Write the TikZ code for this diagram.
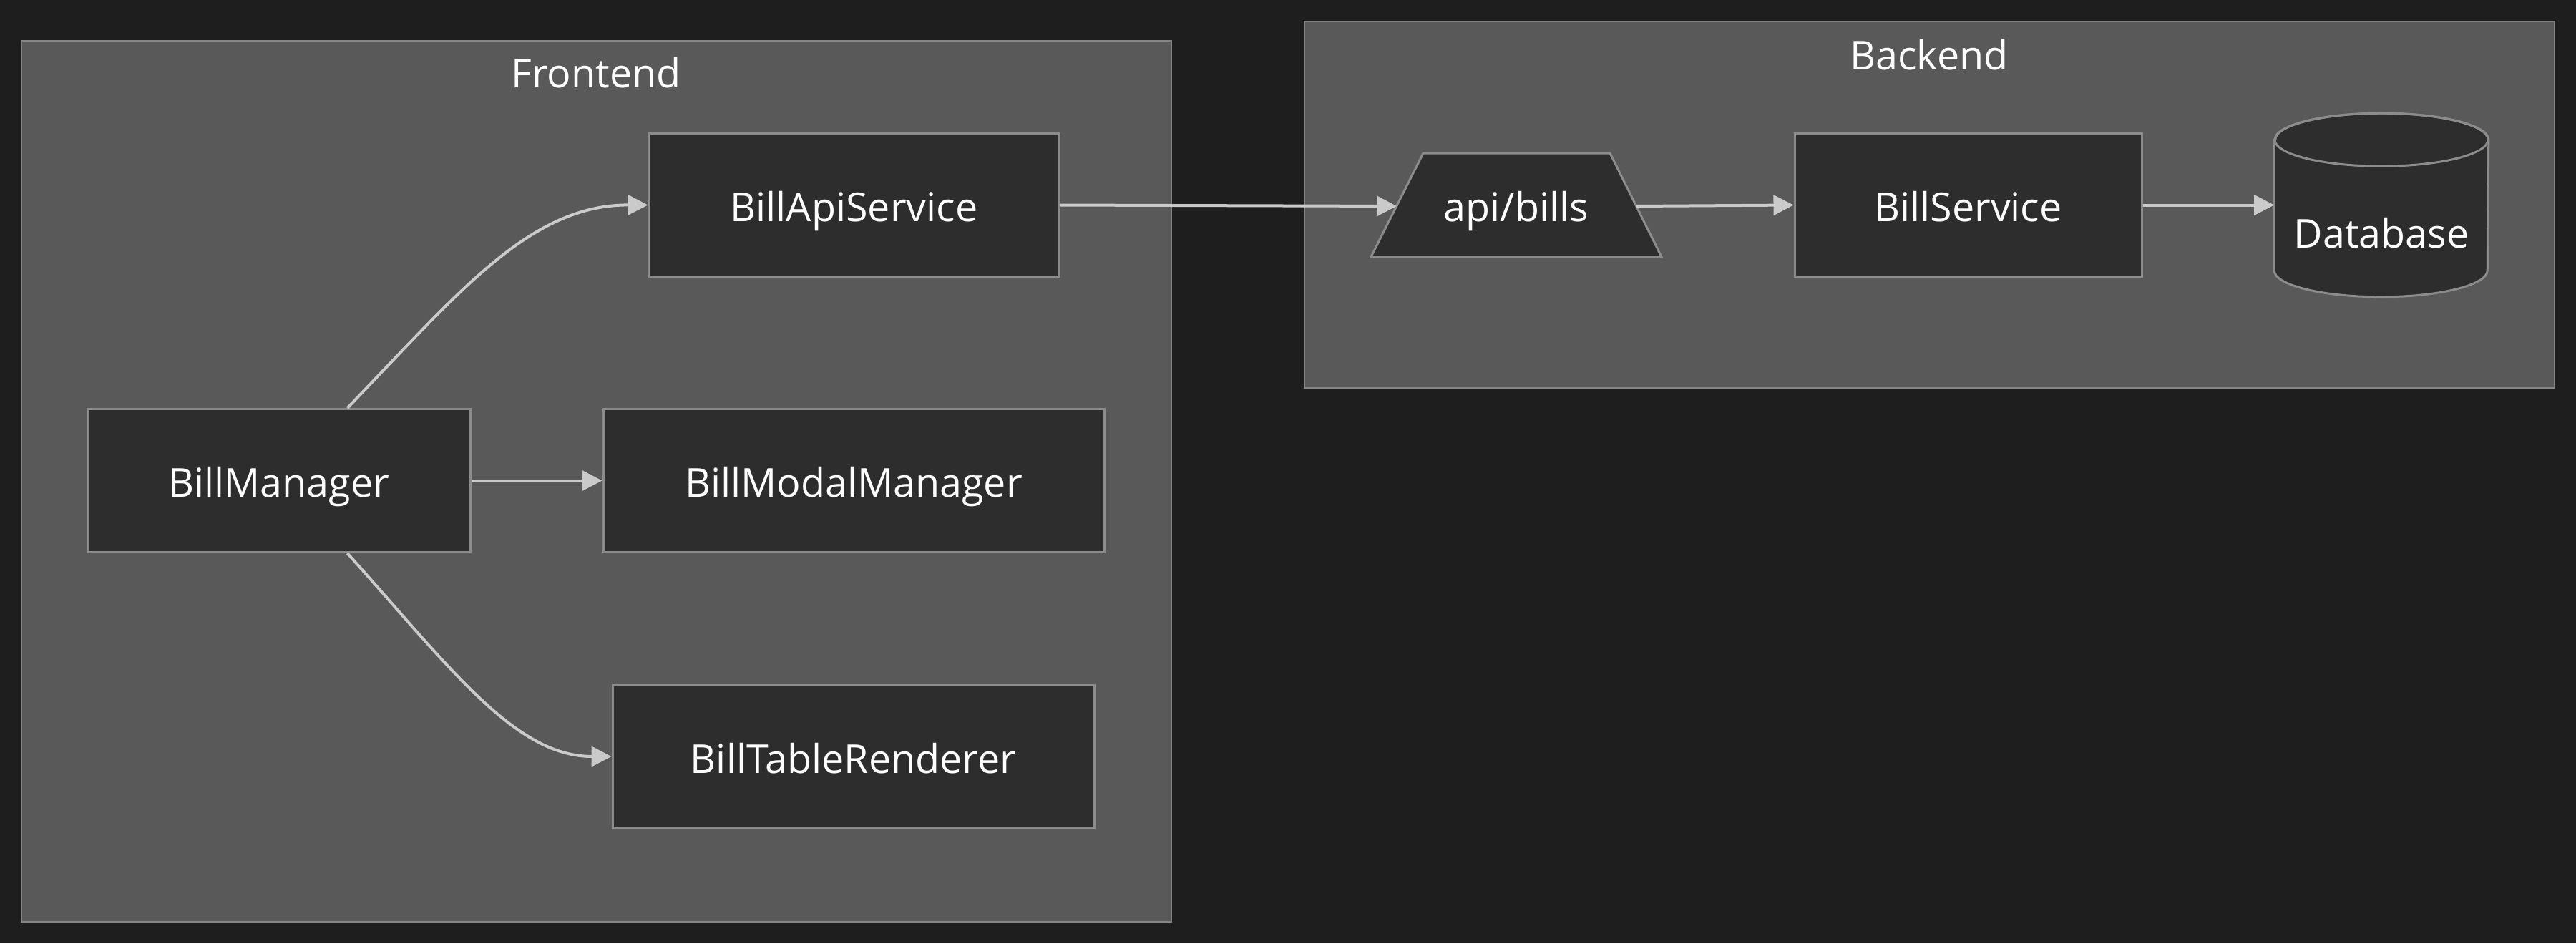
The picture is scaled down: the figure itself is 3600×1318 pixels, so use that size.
\documentclass[tikz,border=0pt]{standalone}
\usepackage{fontspec}
\setmainfont{Open Sans}
\usetikzlibrary{arrows.meta,shapes.geometric,calc}
\definecolor{bgc}{HTML}{1E1E1E}
\definecolor{clfill}{HTML}{595959}
\definecolor{clborder}{HTML}{858585}
\definecolor{ndfill}{HTML}{2D2D2D}
\definecolor{ndborder}{HTML}{8C8C8C}
\definecolor{edgec}{HTML}{CACACA}
\tikzset{
  lbl/.style={text=white, font=\fontsize{13.9pt}{16pt}\selectfont, text height=11.6pt, text depth=0pt},
  cluster/.style={draw=clborder, fill=clfill, line width=0.6pt},
  cltitle/.style={lbl, inner sep=0pt},
  nodebox/.style={lbl, draw=ndborder, fill=ndfill, line width=0.75pt, minimum height=50pt, inner sep=0pt},
  shapeline/.style={draw=ndborder, fill=ndfill, line width=0.75pt},
  conn/.style={draw=edgec, line width=1pt, -{Triangle[length=7pt,width=7pt]}},
}
\begin{document}
\begin{tikzpicture}[x=0.25pt,y=-0.25pt]
\useasboundingbox[fill=bgc] (0,0) rectangle (3600,1318);
% clusters
\draw[cluster] (30,57) rectangle (1637,1288);
\draw[cluster] (1823,30) rectangle (3570,542);
\node[cltitle] (tfront) at (833,99) {Frontend};
\node[cltitle] (tback) at (2696,74) {Backend};
% frontend nodes
\node[nodebox, minimum width=143.25pt] (bas) at (1193.5,286.5) {BillApiService};
\node[nodebox, minimum width=133.75pt] (bm) at (389.5,671.5) {BillManager};
\node[nodebox, minimum width=175pt] (bmm) at (1193,671.5) {BillModalManager};
\node[nodebox, minimum width=168.25pt] (btr) at (1192.5,1057) {BillTableRenderer};
% backend: trapezoid api/bills
\draw[shapeline] (1989,214) -- (2250,214) -- (2322,359) -- (1916,359) -- cycle;
\node[lbl, inner sep=0pt] (api) at (2119,286.5) {api/bills};
\coordinate (apiL) at (1952,288);
\coordinate (apiR) at (2286,288);
\node[nodebox, minimum width=121.25pt] (bs) at (2750.5,286.5) {BillService};
% database cylinder
\node[minimum width=74.5pt, minimum height=63.75pt, inner sep=0pt] (db) at (3328,286.5) {};
\draw[shapeline]
  ($(db.north west)+(0,37)$) -- ($(db.south west)+(0,-37)$)
  arc[start angle=180, end angle=360, x radius=37.25pt, y radius=9.25pt]
  -- ($(db.north east)+(0,37)$)
  arc[start angle=0, end angle=180, x radius=37.25pt, y radius=9.25pt] -- cycle;
\draw[draw=ndborder, line width=0.75pt] ($(db.north)+(0,37)$) ellipse[x radius=37.25pt, y radius=9.25pt];
\node[lbl, inner sep=0pt] (dbt) at (3328,323) {Database};
% connectors
\draw[conn] ([xshift=24pt]bm.north) .. controls (640,410) and (740,286) .. (bas.west);
\draw[conn] (bm.east) -- (bmm.west);
\draw[conn] ([xshift=24pt]bm.south) .. controls (630,934) and (720,1057) .. (btr.west);
\draw[conn] (bas.east) -- (apiL);
\draw[conn] (apiR) -- (bs.west);
\draw[conn] (bs.east) -- (db.west);
\end{tikzpicture}
\end{document}
